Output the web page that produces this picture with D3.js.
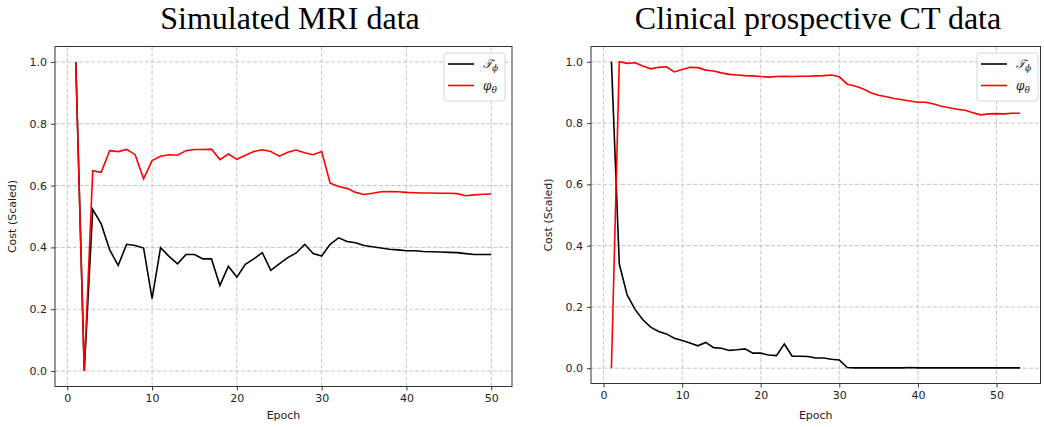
<!DOCTYPE html>
<html>
<head>
<meta charset="utf-8">
<script src="https://cdn.jsdelivr.net/npm/d3@7"></script>
<style>
  body { margin: 0; background: #fff; }
  .title { font-family: "Liberation Serif", "Times New Roman", serif; font-size: 32px; fill: #000; }
  .tick text { font-family: "DejaVu Sans", sans-serif; font-size: 11px; fill: #222; }
  .axis-label { font-family: "DejaVu Sans", sans-serif; font-size: 11px; fill: #222; }
  .legend text { font-family: "DejaVu Serif", serif; font-style: italic; font-size: 12px; fill: #222; }
</style>
</head>
<body>
<svg id="chart" width="1044" height="427"></svg>
<script>
// data (epoch = index + 1)
const mriTransform = [1.0, 0.0, 0.523, 0.476, 0.392, 0.342, 0.410, 0.406, 0.398, 0.234,
  0.399, 0.371, 0.347, 0.377, 0.377, 0.363, 0.363, 0.277, 0.339, 0.304,
  0.345, 0.363, 0.383, 0.326, 0.347, 0.367, 0.382, 0.410, 0.380, 0.372,
  0.410, 0.431, 0.419, 0.415, 0.406, 0.402, 0.398, 0.394, 0.392, 0.389,
  0.389, 0.387, 0.386, 0.385, 0.384, 0.383, 0.380, 0.377, 0.377, 0.377];
const mriPhi = [1.0, 0.0, 0.648, 0.643, 0.713, 0.710, 0.717, 0.700, 0.622, 0.681,
  0.695, 0.700, 0.698, 0.713, 0.717, 0.717, 0.718, 0.684, 0.702, 0.685,
  0.698, 0.710, 0.716, 0.710, 0.695, 0.708, 0.715, 0.706, 0.700, 0.710,
  0.608, 0.597, 0.591, 0.578, 0.571, 0.575, 0.580, 0.581, 0.580, 0.578,
  0.577, 0.576, 0.576, 0.575, 0.575, 0.574, 0.567, 0.570, 0.572, 0.573];

const ctTransform = [1.0, 0.340, 0.239, 0.192, 0.158, 0.134, 0.120, 0.112, 0.098, 0.090,
  0.082, 0.073, 0.084, 0.067, 0.065, 0.058, 0.060, 0.063, 0.049, 0.049,
  0.043, 0.041, 0.079, 0.039, 0.039, 0.038, 0.033, 0.033, 0.029, 0.027,
  0.002, 0.001, 0.001, 0.001, 0.001, 0.001, 0.001, 0.001, 0.002, 0.001,
  0.001, 0.001, 0.001, 0.001, 0.001, 0.001, 0.001, 0.001, 0.001, 0.001,
  0.001, 0.001, 0.001];
const ctPhi = [0.0, 1.0, 0.995, 0.997, 0.986, 0.977, 0.982, 0.984, 0.967, 0.975,
  0.982, 0.981, 0.973, 0.970, 0.964, 0.959, 0.957, 0.955, 0.954, 0.952,
  0.950, 0.952, 0.953, 0.952, 0.953, 0.953, 0.954, 0.955, 0.957, 0.951,
  0.927, 0.921, 0.912, 0.899, 0.891, 0.886, 0.880, 0.876, 0.872, 0.868,
  0.868, 0.862, 0.855, 0.850, 0.845, 0.842, 0.834, 0.827, 0.830, 0.831,
  0.830, 0.832, 0.832];

const titles = ["Simulated MRI data", "Clinical prospective CT data"];
const xTicks = [0, 10, 20, 30, 40, 50];
const yTicks = [0.0, 0.2, 0.4, 0.6, 0.8, 1.0];

const svg = d3.select("#chart");

function drawPanel(opts) {
  const { left, right, top, bottom, xMax, title, titleX, black, red, legendX, yLabelX } = opts;

  const xScale = d3.scaleLinear().domain([1 - (xMax - 1) * 0.05, xMax + (xMax - 1) * 0.05]).range([left, right]);
  const yScale = d3.scaleLinear().domain([-0.05, 1.05]).range([bottom, top]);

  const g = svg.append("g");

  // grid
  g.append("g")
    .selectAll("line.gx")
    .data(xTicks)
    .enter()
    .append("line")
    .attr("x1", (d) => xScale(d)).attr("x2", (d) => xScale(d))
    .attr("y1", top).attr("y2", bottom)
    .attr("stroke", "#b8b8b8").attr("stroke-width", 0.8).attr("stroke-dasharray", "4,2");
  g.append("g")
    .selectAll("line.gy")
    .data(yTicks)
    .enter()
    .append("line")
    .attr("y1", (d) => yScale(d)).attr("y2", (d) => yScale(d))
    .attr("x1", left).attr("x2", right)
    .attr("stroke", "#b8b8b8").attr("stroke-width", 0.8).attr("stroke-dasharray", "4,2");

  // axes
  const xAxis = d3.axisBottom(xScale).tickValues(xTicks).tickSize(4).tickPadding(4).tickFormat(d3.format("d"));
  const yAxis = d3.axisLeft(yScale).tickValues(yTicks).tickSize(4).tickPadding(4).tickFormat(d3.format(".1f"));

  const xAxisG = g.append("g").attr("transform", `translate(0,${bottom})`).call(xAxis);
  const yAxisG = g.append("g").attr("transform", `translate(${left},0)`).call(yAxis);
  xAxisG.select(".domain").remove();
  yAxisG.select(".domain").remove();
  g.selectAll(".tick line").attr("stroke", "#222").attr("stroke-width", 0.9);

  // lines
  const line = d3.line()
    .x((d, i) => xScale(i + 1))
    .y((d) => yScale(d));

  g.append("path").attr("d", line(black)).attr("fill", "none").attr("stroke", "#000").attr("stroke-width", 1.6);
  g.append("path").attr("d", line(red)).attr("fill", "none").attr("stroke", "#ff0000").attr("stroke-width", 1.6);

  // frame
  g.append("rect")
    .attr("x", left).attr("y", top)
    .attr("width", right - left).attr("height", bottom - top)
    .attr("fill", "none").attr("stroke", "#333").attr("stroke-width", 1);

  // labels
  svg.append("text").attr("class", "title")
    .attr("x", titleX).attr("y", 29).attr("text-anchor", "middle").text(title);

  svg.append("text").attr("class", "axis-label")
    .attr("x", (left + right) / 2).attr("y", 419).attr("text-anchor", "middle").text("Epoch");

  svg.append("text").attr("class", "axis-label")
    .attr("transform", `translate(${yLabelX},${(top + bottom) / 2}) rotate(-90)`)
    .attr("text-anchor", "middle").text("Cost (Scaled)");

  // legend
  const lg = svg.append("g").attr("class", "legend").attr("transform", `translate(${legendX},53)`);
  lg.append("rect").attr("width", 61).attr("height", 48).attr("rx", 3)
    .attr("fill", "#fff").attr("fill-opacity", 0.85).attr("stroke", "#d6d6d6");
  const items = [{ c: "#000", main: "\u{1D4AF}", sub: "\u03d5" }, { c: "#ff0000", main: "\u03c6", sub: "\u03b8" }];
  items.forEach((it, i) => {
    const yy = 11 + i * 21.5;
    lg.append("line").attr("x1", 4).attr("x2", 30).attr("y1", yy).attr("y2", yy)
      .attr("stroke", it.c).attr("stroke-width", 1.6);
    const t = lg.append("text").attr("x", 39).attr("y", yy + 4);
    t.append("tspan").text(it.main);
    t.append("tspan").attr("font-size", "9px").attr("dy", 3).text(it.sub);
  });
}

drawPanel({
  left: 55, right: 512, top: 46.5, bottom: 386.5, xMax: mriTransform.length,
  title: titles[0], titleX: 290, black: mriTransform, red: mriPhi, legendX: 444, yLabelX: 16
});
drawPanel({
  left: 591, right: 1040.5, top: 46.5, bottom: 383.5, xMax: ctTransform.length,
  title: titles[1], titleX: 818, black: ctTransform, red: ctPhi, legendX: 977, yLabelX: 552
});
</script>
</body>
</html>
